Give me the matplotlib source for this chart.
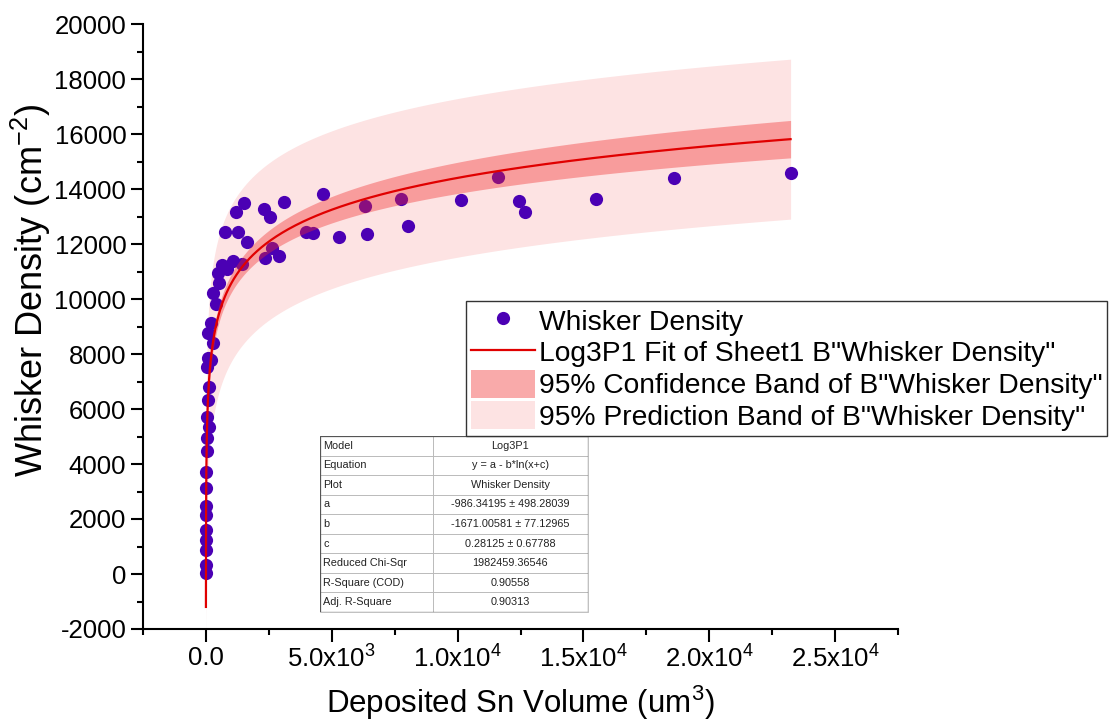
import numpy as np
import matplotlib
matplotlib.use("Agg")
import matplotlib.pyplot as plt
from matplotlib.lines import Line2D
from matplotlib.patches import Patch, Rectangle
from matplotlib.ticker import MultipleLocator

plt.rcParams["font.family"] = ["Liberation Sans", "DejaVu Sans"]
plt.rcParams["mathtext.fontset"] = "custom"
plt.rcParams["mathtext.rm"] = "Liberation Sans"
plt.rcParams["mathtext.it"] = "Liberation Sans:italic"
plt.rcParams["mathtext.default"] = "regular"
plt.rcParams["axes.unicode_minus"] = False

# deposited Sn volume (um^3) vs whisker density (cm^-2)
volume = np.array([
    0.6, 1.2, 2, 3, 4, 6, 8, 12, 20, 40, 60, 110, 30, 70, 120, 30, 220, 90,
    290, 90, 200, 420, 290,
    489, 529, 648, 756, 823, 1062, 1181, 1285, 1444, 1524, 1643, 2307, 2347,
    2546, 2637, 2916, 3115, 3978, 4245, 4666,
    5291, 6337, 6417, 7757, 8048, 10132, 11604, 12423, 12662, 15514, 18605,
    23232,
])
density = np.array([
    25, 327, 873, 1236, 1600, 2145, 2473, 3116, 3720, 4484, 4935, 5356, 5720,
    6327, 6811, 7516, 7782, 7844, 8411, 8753, 9138, 9818, 10207,
    10956, 10571, 11236, 12425, 11080, 11382, 13164, 12425, 11262, 13502,
    12073, 13262, 11480, 12993, 11844, 11564, 13516, 12447, 12389, 13818,
    12265, 13382, 12364, 13636, 12655, 13600, 14425, 13575, 13153, 13636,
    14400, 14571,
])

# Log3P1 fit, y = a - b*ln(x+c)
fit_a, fit_b, fit_c = -986.34195, -1671.00581, 0.28125
fit_err = np.array([498.28039, 77.12965, 0.67788])
red_chisq = 1982459.36546
t95 = 2.008  # two-sided 95%, df = n - 3

table_rows = [
    ("Model", "Log3P1"),
    ("Equation", "y = a - b*ln(x+c)"),
    ("Plot", "Whisker Density"),
    ("a", "-986.34195 \u00b1 498.28039"),
    ("b", "-1671.00581 \u00b1 77.12965"),
    ("c", "0.28125 \u00b1 0.67788"),
    ("Reduced Chi-Sqr", "1982459.36546"),
    ("R-Square (COD)", "0.90558"),
    ("Adj. R-Square", "0.90313"),
]

x_ticks = [0, 5000, 10000, 15000, 20000, 25000]
x_tick_labels = ["0.0", "5.0x10$^{3}$", "1.0x10$^{4}$", "1.5x10$^{4}$",
                 "2.0x10$^{4}$", "2.5x10$^{4}$"]
y_ticks = list(range(-2000, 20001, 2000))

PT_COLOR = "#4b00b4"
FIT_COLOR = "#e00000"
PRED_COLOR = "#fde3e3"
CONF_COLOR = "#f02a2a"


def model(x):
    return fit_a - fit_b * np.log(x + fit_c)


def grad(x):
    # partial derivatives wrt a, b, c
    return np.column_stack([np.ones_like(x), -np.log(x + fit_c), -fit_b / (x + fit_c)])


# parameter covariance: correlations from the design, scaled to the reported errors
J = grad(volume.astype(float))
cov_raw = red_chisq * np.linalg.inv(J.T @ J)
sd_raw = np.sqrt(np.diag(cov_raw))
cov = cov_raw / np.outer(sd_raw, sd_raw) * np.outer(fit_err, fit_err)

xs = np.geomspace(volume.min(), volume.max(), 800)
ys = model(xs)
G = grad(xs)
var_fit = np.einsum("ij,jk,ik->i", G, cov, G)
conf = t95 * np.sqrt(var_fit)
pred = t95 * np.sqrt(red_chisq + var_fit)

fig = plt.figure(figsize=(11.13, 7.28), dpi=100)
ax = fig.add_axes([143 / 1113, 1 - 629 / 728, 755 / 1113, 605 / 728])

ax.fill_between(xs, ys - pred, ys + pred, color=PRED_COLOR, lw=0, zorder=1)
ax.plot(volume, density, "o", color=PT_COLOR, ms=9.5, mec="none", zorder=2)
ax.fill_between(xs, ys - conf, ys + conf, color=CONF_COLOR, alpha=0.38, lw=0, zorder=3)
ax.plot(xs, ys, color=FIT_COLOR, lw=1.6, zorder=4)

ax.set_xlim(-2500, 27500)
ax.set_ylim(-2000, 20000)
ax.set_xticks(x_ticks)
ax.set_xticklabels(x_tick_labels)
ax.set_yticks(y_ticks)
ax.xaxis.set_minor_locator(MultipleLocator(2500))
ax.yaxis.set_minor_locator(MultipleLocator(1000))
ax.tick_params(which="major", direction="out", length=9, width=1.5, labelsize=18.5, pad=3)
ax.tick_params(which="minor", direction="out", length=4.5, width=1.5)
for side in ("top", "right"):
    ax.spines[side].set_visible(False)
for side in ("left", "bottom"):
    ax.spines[side].set_linewidth(1.5)

ax.set_xlabel("Deposited Sn Volume (um$^{3}$)", fontsize=22.5, labelpad=8)
ax.set_ylabel("Whisker Density (cm$^{-2}$)", fontsize=26)
ax.yaxis.set_label_coords(-0.119, 0.56)

handles = [
    Line2D([], [], ls="none", marker="o", ms=9.5, color=PT_COLOR, mec="none"),
    Line2D([], [], color=FIT_COLOR, lw=1.6),
    Patch(facecolor="#f9aaaa", edgecolor="none"),
    Patch(facecolor=PRED_COLOR, edgecolor="none"),
]
labels = [
    "Whisker Density",
    'Log3P1 Fit of Sheet1 B"Whisker Density"',
    '95% Confidence Band of B"Whisker Density"',
    '95% Prediction Band of B"Whisker Density"',
]
leg = fig.legend(handles, labels, loc="upper left", bbox_to_anchor=(466 / 1113, 1 - 301 / 728),
                 fontsize=20.3, frameon=True, fancybox=False, framealpha=1, edgecolor="#333333",
                 borderpad=0.18, handlelength=2.25, handleheight=1.15, handletextpad=0.15,
                 labelspacing=0.08, borderaxespad=0)
leg.get_frame().set_linewidth(1.0)

# fit summary table
tab_ax = fig.add_axes([320 / 1113, 1 - 612 / 728, 268 / 1113, 176 / 728])
tab_ax.axis("off")
tbl = tab_ax.table(cellText=[list(r) for r in table_rows], colWidths=[0.42, 0.58],
                   bbox=[0, 0, 1, 1])
tbl.auto_set_font_size(False)
for (r, c), cell in tbl.get_celld().items():
    cell.set_edgecolor("#b5b5b5")
    cell.set_linewidth(0.6)
    cell.set_facecolor("white")
    cell.get_text().set_fontsize(7.8)
    cell.get_text().set_color("#222222")
    if c == 0:
        cell.get_text().set_ha("left")
        cell.PAD = 0.03
    else:
        cell.get_text().set_ha("center")
tab_ax.add_patch(Rectangle((0, 0), 1, 1, transform=tab_ax.transAxes, fill=False,
                           edgecolor="#555555", lw=0.9, zorder=5))

fig.savefig("out.png", dpi=100, facecolor="white")
